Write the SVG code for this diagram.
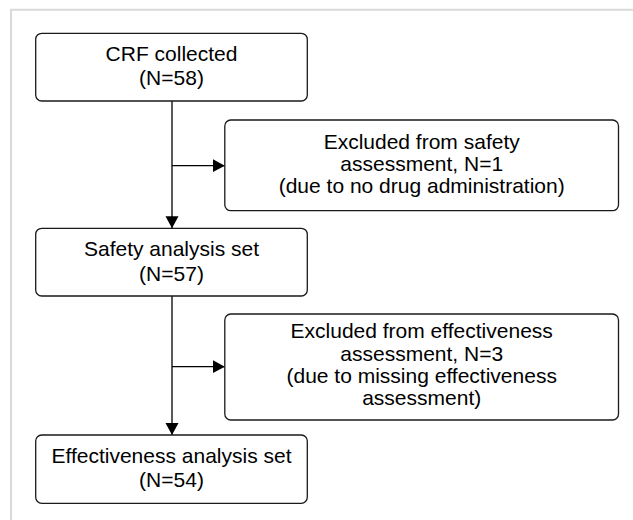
<svg xmlns="http://www.w3.org/2000/svg" width="633" height="520" viewBox="0 0 633 520">
  <style>
    .box { fill: #ffffff; stroke: #1a1a1a; stroke-width: 1.3; }
    .t { font-family: "Liberation Sans", Arial, sans-serif; font-size: 21px; fill: #000000; text-anchor: middle; }
    .line { fill: none; stroke: #000000; stroke-width: 1.3; }
    .frame { fill: none; stroke: #d9d9d9; stroke-width: 2; }
  </style>
  <defs>
    <marker id="arrow" markerUnits="userSpaceOnUse" markerWidth="13" markerHeight="14" refX="12" refY="6.5" orient="auto">
      <path d="M0,0 L12,6.5 L0,13 Z" fill="#000000"/>
    </marker>
  </defs>
  <rect x="0" y="0" width="633" height="520" fill="#ffffff"/>
  <path class="frame" d="M11,520 L11,9.7 L633,9.7"/>

  <g id="connectors">
    <line class="line" x1="172" y1="101" x2="172" y2="228.3" marker-end="url(#arrow)"/>
    <line class="line" x1="172" y1="165.7" x2="224.8" y2="165.7" marker-end="url(#arrow)"/>
    <line class="line" x1="172" y1="296" x2="172" y2="435" marker-end="url(#arrow)"/>
    <line class="line" x1="172" y1="366.7" x2="224.8" y2="366.7" marker-end="url(#arrow)"/>
  </g>

  <g id="crf">
    <rect class="box" x="35.7" y="33.3" width="271.6" height="67.7" rx="6" ry="6"/>
    <text class="t" x="171.5" y="61">CRF collected</text>
    <text class="t" x="171.5" y="85">(N=58)</text>
  </g>

  <g id="excl-safety">
    <rect class="box" x="224.8" y="120" width="393.7" height="90.7" rx="6" ry="6"/>
    <text class="t" x="421.7" y="148.5">Excluded from safety</text>
    <text class="t" x="421.7" y="171">assessment, N=1</text>
    <text class="t" x="421.7" y="193">(due to no drug administration)</text>
  </g>

  <g id="safety-set">
    <rect class="box" x="35.7" y="228.3" width="271.6" height="67.7" rx="6" ry="6"/>
    <text class="t" x="171.5" y="256">Safety analysis set</text>
    <text class="t" x="171.5" y="280.5">(N=57)</text>
  </g>

  <g id="excl-effect">
    <rect class="box" x="224.8" y="314" width="393.7" height="106" rx="6" ry="6"/>
    <text class="t" x="421.7" y="338.3">Excluded from effectiveness</text>
    <text class="t" x="421.7" y="360.5">assessment, N=3</text>
    <text class="t" x="421.7" y="382.5">(due to missing effectiveness</text>
    <text class="t" x="421.7" y="404.5">assessment)</text>
  </g>

  <g id="effect-set">
    <rect class="box" x="35.7" y="435" width="271.6" height="68.3" rx="6" ry="6"/>
    <text class="t" x="171.5" y="462.7">Effectiveness analysis set</text>
    <text class="t" x="171.5" y="486.5">(N=54)</text>
  </g>
</svg>
